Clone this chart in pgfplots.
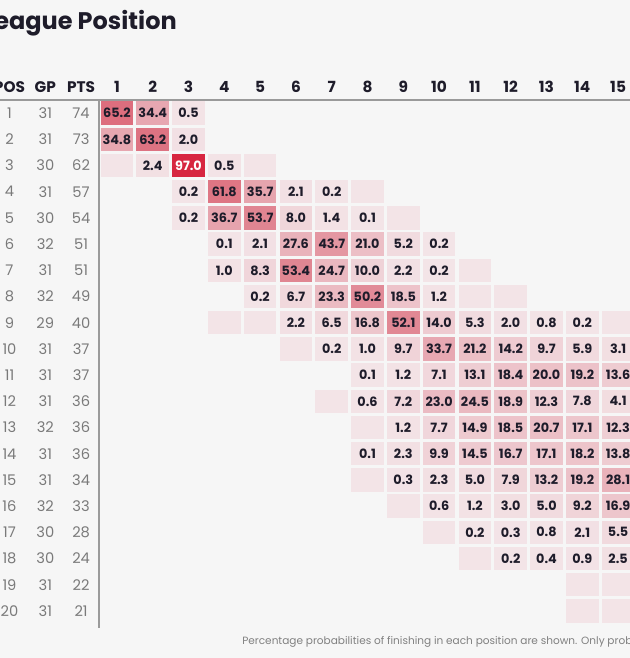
\documentclass[border=0pt]{standalone}
\usepackage{pgfplots}
\pgfplotsset{compat=1.18}
\usepackage{pgfplotstable}
\usepackage{fontspec}
\setmainfont{Poppins}
\definecolor{bg}{HTML}{F6F6F6}
\definecolor{ink}{HTML}{1E1C2A}
\definecolor{lab}{HTML}{7A7A7A}
\definecolor{rulec}{HTML}{9A9A9A}
\definecolor{foot}{HTML}{808080}
\definecolor{emptyc}{HTML}{F3E4E7}

\pgfdeclareplotmark{cell}{\pgfpathrectangle{\pgfqpoint{-12.19pt}{-8.81pt}}{\pgfqpoint{24.38pt}{17.62pt}}\pgfusepath{fill}}
\pgfdeclareplotmark{vcell}{\pgfplotscolormapdefinemappedcolor{\pgfplotspointmetatransformed}\pgfsetfillcolor{mapped color}\pgfpathrectangle{\pgfqpoint{-12.19pt}{-8.81pt}}{\pgfqpoint{24.38pt}{17.62pt}}\pgfusepath{fill}}

\pgfplotstableread{
x y v
1 1 65.2
2 1 34.4
3 1 0.5
1 2 34.8
2 2 63.2
3 2 2.0
2 3 2.4
4 3 0.5
3 4 0.2
4 4 61.8
5 4 35.7
6 4 2.1
7 4 0.2
3 5 0.2
4 5 36.7
5 5 53.7
6 5 8.0
7 5 1.4
8 5 0.1
4 6 0.1
5 6 2.1
6 6 27.6
7 6 43.7
8 6 21.0
9 6 5.2
10 6 0.2
4 7 1.0
5 7 8.3
6 7 53.4
7 7 24.7
8 7 10.0
9 7 2.2
10 7 0.2
5 8 0.2
6 8 6.7
7 8 23.3
8 8 50.2
9 8 18.5
10 8 1.2
6 9 2.2
7 9 6.5
8 9 16.8
9 9 52.1
10 9 14.0
11 9 5.3
12 9 2.0
13 9 0.8
14 9 0.2
7 10 0.2
8 10 1.0
9 10 9.7
10 10 33.7
11 10 21.2
12 10 14.2
13 10 9.7
14 10 5.9
15 10 3.1
8 11 0.1
9 11 1.2
10 11 7.1
11 11 13.1
12 11 18.4
13 11 20.0
14 11 19.2
15 11 13.6
8 12 0.6
9 12 7.2
10 12 23.0
11 12 24.5
12 12 18.9
13 12 12.3
14 12 7.8
15 12 4.1
9 13 1.2
10 13 7.7
11 13 14.9
12 13 18.5
13 13 20.7
14 13 17.1
15 13 12.3
8 14 0.1
9 14 2.3
10 14 9.9
11 14 14.5
12 14 16.7
13 14 17.1
14 14 18.2
15 14 13.8
9 15 0.3
10 15 2.3
11 15 5.0
12 15 7.9
13 15 13.2
14 15 19.2
15 15 28.1
10 16 0.6
11 16 1.2
12 16 3.0
13 16 5.0
14 16 9.2
15 16 16.9
11 17 0.2
12 17 0.3
13 17 0.8
14 17 2.1
15 17 5.5
12 18 0.2
13 18 0.4
14 18 0.9
15 18 2.5
}\cells

\pgfplotstableread{
x y v
3 3 97.0
}\topcell

\pgfplotstableread{
x y
1 3
5 3
8 4
9 5
11 7
11 8
12 8
4 9
5 9
15 9
6 10
7 12
8 13
8 15
9 16
10 17
11 18
14 19
15 19
14 20
15 20
}\empties

\pgfplotstableread{
pos gp pts
1 31 74
2 31 73
3 30 62
4 31 57
5 30 54
6 32 51
7 31 51
8 32 49
9 29 40
10 31 37
11 31 37
12 31 36
13 32 36
14 31 36
15 31 34
16 32 33
17 30 28
18 30 24
19 31 22
20 31 21
}\standings

\pgfplotstableread{
x t
-2 POS
-1 GP
0 PTS
1 1
2 2
3 3
4 4
5 5
6 6
7 7
8 8
9 9
10 10
11 11
12 12
13 13
14 14
15 15
}\header

\begin{document}
\begin{tikzpicture}
\path[use as bounding box] (0,0) rectangle (472.5pt,-493.5pt);
\fill[bg] (0,0) rectangle (472.5pt,-493.5pt);
\clip (0,0) rectangle (472.5pt,-493.5pt);
\begin{axis}[
  at={(74.25pt,-75pt)}, anchor=north west,
  scale only axis, width=402.75pt, height=393pt,
  xmin=0.5, xmax=15.5, ymin=0.5, ymax=20.5, y dir=reverse,
  hide axis, clip=false,
  colormap={reds}{rgb255(0cm)=(243,228,231) rgb255(6cm)=(222,122,136) rgb255(10cm)=(214,31,58)},
  point meta min=0, point meta max=100,
  /pgf/number format/assume math mode=true,
]
\draw[rulec, line width=1.1pt] (axis cs:-3,0.5) -- (axis cs:16,0.5);
\draw[rulec, line width=1.1pt] (axis cs:0.5,0.5) -- (axis cs:0.5,20.65);

\addplot[only marks, mark=cell, mark options={fill=emptyc, draw=none}] table[x=x,y=y]{\empties};

\addplot[scatter, only marks, mark=vcell,
  scatter/@pre marker code/.code={}, scatter/@post marker code/.code={},
  point meta=explicit,
  nodes near coords={\pgfmathprintnumber[fixed,fixed zerofill,precision=1]{\pgfplotspointmeta}},
  nodes near coords align=center,
  every node near coord/.append style={font=\bfseries\fontsize{9.6}{9.6}\selectfont, text=ink, inner sep=0pt}]
  table[x=x,y=y,meta=v]{\cells};

\addplot[scatter, only marks, mark=vcell,
  scatter/@pre marker code/.code={}, scatter/@post marker code/.code={},
  point meta=explicit,
  nodes near coords={\pgfmathprintnumber[fixed,fixed zerofill,precision=1]{\pgfplotspointmeta}},
  nodes near coords align=center,
  every node near coord/.append style={font=\bfseries\fontsize{9.6}{9.6}\selectfont, text=white, inner sep=0pt}]
  table[x=x,y=y,meta=v]{\topcell};

\addplot[only marks, mark=none, point meta=explicit symbolic,
  nodes near coords, nodes near coords align=center,
  every node near coord/.append style={font=\fontsize{11}{11}\selectfont, text=lab, inner sep=0pt}]
  table[x expr=-2, y=pos, meta=pos]{\standings};
\addplot[only marks, mark=none, point meta=explicit symbolic,
  nodes near coords, nodes near coords align=center,
  every node near coord/.append style={font=\fontsize{11}{11}\selectfont, text=lab, inner sep=0pt}]
  table[x expr=-1, y=pos, meta=gp]{\standings};
\addplot[only marks, mark=none, point meta=explicit symbolic,
  nodes near coords, nodes near coords align=center,
  every node near coord/.append style={font=\fontsize{11}{11}\selectfont, text=lab, inner sep=0pt}]
  table[x expr=0, y=pos, meta=pts]{\standings};

\addplot[only marks, mark=none, point meta=explicit symbolic,
  nodes near coords, nodes near coords align=center,
  every node near coord/.append style={font=\bfseries\fontsize{11.5}{11.5}\selectfont, text=ink, inner sep=0pt}]
  table[x=x, y expr=0, meta=t]{\header};
\end{axis}
\node[anchor=base east, inner sep=0pt, text=ink, font=\bfseries\fontsize{18}{18}\selectfont] at (132.75pt,-21.75pt) {League Position};
\node[anchor=base west, inner sep=0pt, text=foot, font=\fontsize{7.9}{7.9}\selectfont] at (181.5pt,-483pt) {Percentage probabilities of finishing in each position are shown. Only probabilities};
\end{tikzpicture}
\end{document}
